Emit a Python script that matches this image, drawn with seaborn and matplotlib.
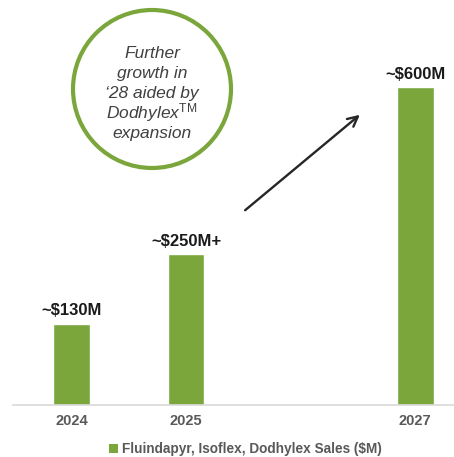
import matplotlib
matplotlib.use("Agg")
import matplotlib.pyplot as plt
from matplotlib.patches import Ellipse, Patch
import seaborn as sns

# data
years = [2024, 2025, 2027]
bar_heights = [153, 284, 600]   # bar heights as drawn (not to scale with the labels)
bar_labels = ["~$130M", "~$250M+", "~$600M"]
legend_label = "Fluindapyr, Isoflex, Dodhylex Sales ($M)"
circle_lines = ["Further", "growth in", "\u201828 aided by", "Dodhylex$^{\\rm TM}$", "expansion"]

green = "#7aa63b"
grey_txt = "#595959"

sns.set_theme(style="white")
plt.rcParams['font.family'] = ['Liberation Sans', 'DejaVu Sans']
plt.rcParams['mathtext.fontset'] = 'custom'
plt.rcParams['mathtext.rm'] = 'Liberation Sans'
plt.rcParams['mathtext.it'] = 'Liberation Sans:italic'

W, H = 454, 457
fig = plt.figure(figsize=(W / 100, H / 100), dpi=100)
ax = fig.add_axes([13 / W, (H - 404.5) / H, 440 / W, 404.5 / H])

sns.barplot(x=years, y=bar_heights, native_scale=True, orient="x",
            width=0.32, color=green, saturation=1, ax=ax)

ax.set_xlim(2023.49, 2027.33)
ax.set_ylim(0, 404.5 * 600 / 317)
ax.set_xticks(years)
ax.set_xticklabels([str(y) for y in years], fontsize=10.5, fontweight="bold", color=grey_txt)
ax.tick_params(axis="x", length=0, pad=7)
ax.set_yticks([])
ax.set_xlabel("")
ax.set_ylabel("")
for s in ["top", "right", "left"]:
    ax.spines[s].set_visible(False)
ax.spines["bottom"].set_color("#d9d9d9")
ax.spines["bottom"].set_linewidth(1.2)

ax.bar_label(ax.containers[0], labels=bar_labels, padding=4,
             fontsize=12, fontweight="bold", color="#1a1a1a")

# callout circle
circ = Ellipse((152 / W, 1 - 89 / H), 158 / W, 158 / H, transform=fig.transFigure,
               facecolor="white", edgecolor=green, linewidth=3, zorder=5)
fig.patches.append(circ)
for i, line in enumerate(circle_lines):
    # baselines 20 px apart
    fig.text(152 / W, 1 - (58 + 20 * i) / H, line, ha="center", va="baseline",
             fontsize=12.5, fontstyle="italic", color="#404040", zorder=6)

# growth arrow
ax.annotate("", xy=(362, H - 113), xytext=(243, H - 212),
            xycoords="figure pixels", textcoords="figure pixels",
            arrowprops=dict(arrowstyle="->", lw=1.7, color="#262626", mutation_scale=18))

handle = Patch(facecolor=green, edgecolor="none")
leg = fig.legend([handle], [legend_label], loc="center", bbox_to_anchor=(245 / W, 1 - 449 / H),
                 frameon=False, handlelength=0.65, handleheight=0.65, handletextpad=0.3,
                 prop={"size": 9.8, "weight": "bold"})
for t in leg.get_texts():
    t.set_color(grey_txt)

fig.savefig("out.png", dpi=100)
